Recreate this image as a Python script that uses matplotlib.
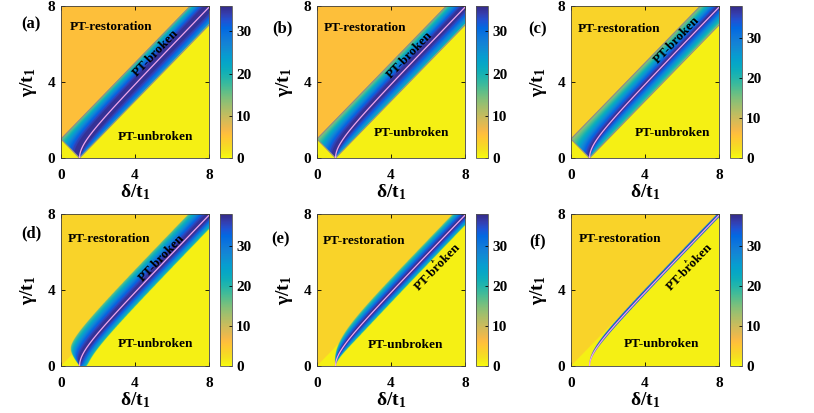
import numpy as np
import matplotlib
matplotlib.use('Agg')
import matplotlib.pyplot as plt
from matplotlib.colors import LinearSegmentedColormap, Normalize
from matplotlib.cm import ScalarMappable

plt.rcParams['font.family'] = 'Liberation Serif'
plt.rcParams['font.weight'] = 'bold'
plt.rcParams['mathtext.fontset'] = 'custom'
plt.rcParams['mathtext.rm'] = 'Liberation Serif:bold'
plt.rcParams['mathtext.it'] = 'Liberation Serif:bold'
plt.rcParams['mathtext.bf'] = 'Liberation Serif:bold'

# ---- values ----
panel_labels = ['(a)', '(b)', '(c)', '(d)', '(e)', '(f)']
cbar_max = [36, 36, 38, 38, 38, 38]                 # top of each colorbar (= peak on the EP line)
restoration_level = [5.5, 5.5, 3.6, 3.6, 3.6, 3.6]  # value in the PT-restoration region
edge_upper = [14, 13, 13, 16, 15, 27]               # value at the upper edge of the broken band
edge_lower = [24, 20, 17, 18, 18, 27]               # value at the lower edge of the broken band
profile_power = [2.5, 2, 1.5, 2, 2, 2]
band_cut = [1, 1, 1, None, None, None]              # straight |delta-gamma| < cut band, (a)-(c)
band_up = [None, None, None, 1.17, 0.72, 0.17]      # curved band half widths, (d)-(f)
band_lo = [None, None, None, 0.73, 0.535, 0.11]
band_growth = [None, None, None, 0.17, 1.5, 1.2]
x_ticks = [0, 4, 8]
y_ticks = [0, 4, 8]
cbar_ticks = [0, 10, 20, 30]

# text anchors in (delta, gamma)
restoration_xy = [(2.7, 6.9), (2.6, 6.85), (2.6, 6.8), (2.6, 6.7), (2.55, 6.6), (2.65, 6.7)]
unbroken_xy = [(5.1, 1.1), (5.1, 1.3), (5.5, 1.3), (5.1, 1.15), (4.8, 1.1), (4.9, 1.15)]
broken_xy = [(5.1, 5.5), (5.0, 5.4), (5.7, 6.2), (5.45, 5.7), (6.5, 5.2), (6.4, 5.2)]
caret_xy = [None, None, None, None, (6.27, 5.5), (6.2, 5.5)]

# parula (MATLAB), index on a 0..63 scale; reversed so that 0 is yellow
parula_idx = [0, 3, 6, 9, 12, 15, 18, 21, 24, 27, 30, 33, 36, 39, 42, 45,
              48, 49, 50, 51, 52, 53, 54, 55, 56, 57, 58, 59, 60, 61, 62, 63]
parula = [(0.208, 0.166, 0.529), (0.208, 0.239, 0.677), (0.125, 0.324, 0.830),
          (0.006, 0.409, 0.883), (0.050, 0.459, 0.864), (0.078, 0.504, 0.838),
          (0.064, 0.557, 0.824), (0.027, 0.614, 0.814), (0.023, 0.653, 0.777),
          (0.059, 0.684, 0.725), (0.145, 0.710, 0.665), (0.259, 0.732, 0.595),
          (0.395, 0.746, 0.524), (0.530, 0.749, 0.466), (0.647, 0.746, 0.419),
          (0.752, 0.738, 0.377), (0.851, 0.730, 0.336), (0.882, 0.727, 0.322),
          (0.914, 0.726, 0.306), (0.945, 0.726, 0.289), (0.974, 0.731, 0.267),
          (0.994, 0.745, 0.240), (0.999, 0.765, 0.216), (0.996, 0.786, 0.197),
          (0.988, 0.807, 0.179), (0.979, 0.827, 0.163), (0.970, 0.848, 0.147),
          (0.963, 0.871, 0.131), (0.959, 0.895, 0.113), (0.960, 0.922, 0.095),
          (0.966, 0.951, 0.076), (0.976, 0.983, 0.054)]
cmap = LinearSegmentedColormap.from_list(
    'parula_r', [(1 - i / 63, col) for i, col in zip(parula_idx, parula)][::-1])


def phase_map(n, d, g):
    u = d - g
    w = d + g
    wi = 1.0 / np.maximum(w, 1e-6)
    du = u - wi                      # offset from the EP line delta^2 - gamma^2 = 1
    cut = band_cut[n]
    if cut is not None:
        a_up = cut + wi
        a_lo = np.maximum(cut - wi, 1e-9)
        upper = u < -cut
    else:
        grow = 1 - np.exp(-np.maximum(w - 1, 0) / band_growth[n])
        a_up = np.maximum(band_up[n] * grow, 1e-9)
        a_lo = np.maximum(band_lo[n] * grow, 1e-9)
        upper = u < 0
    t = np.where(du < 0, -du / a_up, du / a_lo)
    edge = np.where(du < 0, edge_upper[n], edge_lower[n])
    vmax = cbar_max[n]
    v = vmax * (edge / vmax) ** (np.minimum(t, 50) ** profile_power[n])
    inside = (t <= 1) & (w > 1)
    return np.where(inside, v, np.where(upper, restoration_level[n], 0.0))


delta = np.linspace(0, 8, 900)
gamma = np.linspace(0, 8, 900)
D, G = np.meshgrid(delta, gamma)

fig = plt.figure(figsize=(8.14, 4.13), dpi=100)
W_PX, H_PX = 814, 413
col_left = [61, 317, 571]
row_top = [6, 214]
ax_w, ax_h = 148, 152
label_px = [(31, 24), (282, 28), (538, 29), (31, 233), (281, 239), (538, 241)]

for n in range(6):
    r, c = divmod(n, 3)
    left, top = col_left[c], row_top[r]
    ax = fig.add_axes([left / W_PX, (H_PX - top - ax_h) / H_PX, ax_w / W_PX, ax_h / H_PX])
    cax = fig.add_axes([(left + ax_w + 11) / W_PX, (H_PX - top - ax_h) / H_PX, 12 / W_PX, ax_h / H_PX])

    vmax = cbar_max[n]
    Z = phase_map(n, D, G)
    # filled-contour look: snap to 24 levels, keep the restoration value as it is
    step = vmax / 24
    Zq = np.where(Z == restoration_level[n], Z, (np.floor(Z / step) + 0.5) * step)
    ax.imshow(Zq, origin='lower', extent=[0, 8, 0, 8], aspect='auto', cmap=cmap,
              vmin=0, vmax=vmax, interpolation='antialiased')

    # band outline for the sharp-edged panels
    if band_cut[n] is not None:
        cut = band_cut[n]
        ax.plot(delta, delta + cut, color='#8c8c8c', lw=0.8)
        ax.plot(delta, delta - cut, color='#8c8c8c', lw=0.8)
        dc = np.linspace((1 - cut) / 2, (1 + cut) / 2, 50)
        ax.plot(dc, 1 - dc, color='#8c8c8c', lw=0.8)

    # exceptional-point line
    de = np.linspace(1, 8, 400)
    ax.plot(de, np.sqrt(de ** 2 - 1), color='#f0a6ec', lw=0.9)

    ax.set_xlim(0, 8)
    ax.set_ylim(0, 8)
    ax.set_xticks(x_ticks)
    ax.set_yticks(y_ticks)
    ax.tick_params(direction='in', top=True, right=True, length=3, width=0.6, labelsize=11)
    ax.tick_params(axis='x', pad=8)
    ax.tick_params(axis='y', pad=4)
    for sp in ax.spines.values():
        sp.set_linewidth(0.6)
        sp.set_color('#404040')
    ax.set_xlabel(r'$\delta/t_1$', fontsize=14, labelpad=0)
    ax.set_ylabel(r'$\gamma/t_1$', fontsize=14, labelpad=6)

    ax.text(*restoration_xy[n], 'PT-restoration', fontsize=9.5, fontweight='bold', ha='center', va='center')
    ax.text(*unbroken_xy[n], 'PT-unbroken', fontsize=9.5, fontweight='bold', ha='center', va='center')
    ax.text(*broken_xy[n], 'PT-broken', fontsize=9.5, fontweight='bold', ha='center', va='center',
            rotation=46, rotation_mode='anchor')
    if caret_xy[n] is not None:
        ax.text(*caret_xy[n], 'v', fontsize=5, fontweight='bold', ha='center', va='center')

    cb = fig.colorbar(ScalarMappable(norm=Normalize(0, vmax), cmap=cmap), cax=cax, ticks=cbar_ticks)
    cb.outline.set_linewidth(0.6)
    cb.outline.set_edgecolor('#555555')
    cax.tick_params(direction='in', length=2, width=0.6, labelsize=11, pad=3)

    fig.text(label_px[n][0] / W_PX, 1 - label_px[n][1] / H_PX, panel_labels[n],
             fontsize=12, fontweight='bold', ha='center', va='center')

fig.savefig('out.png', dpi=100)
